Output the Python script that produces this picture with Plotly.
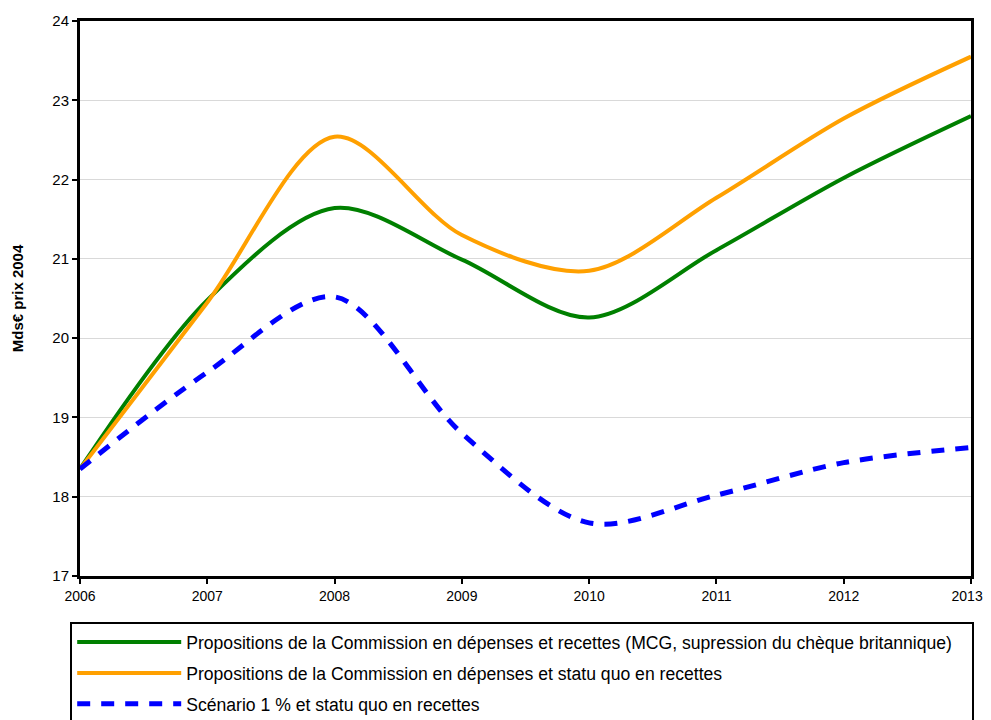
import plotly.graph_objects as go

years = [2006, 2007, 2008, 2009, 2010, 2011, 2012, 2013]
year_labels = ["2006", "2007", "2008", "2009", "2010", "2011", "2012", "2013\u00a0\u00a0"]
commission_full = [18.35, 20.48, 21.64, 20.99, 20.26, 21.11, 22.02, 22.80]
commission_statu_quo = [18.35, 20.45, 22.54, 21.30, 20.85, 21.77, 22.77, 23.55]
scenario_1pct = [18.35, 19.57, 20.52, 18.80, 17.67, 18.02, 18.43, 18.62]

names = [
    "Propositions de la Commission en dépenses et recettes (MCG, supression du chèque britannique)",
    "Propositions de la Commission en dépenses et statu quo en recettes",
    "Scénario 1 % et statu quo en recettes",
]

fig = go.Figure()
fig.add_trace(go.Scatter(x=years, y=commission_full, name=names[0] + "\u00a0\u00a0\u00a0", mode="lines",
                         line=dict(color="#008000", width=4, shape="spline", smoothing=0.9),
                         legendgroup="a"))
fig.add_trace(go.Scatter(x=years, y=commission_statu_quo, name=names[1], mode="lines",
                         line=dict(color="#FFA000", width=4, shape="spline", smoothing=0.9),
                         legendgroup="b"))
fig.add_trace(go.Scatter(x=years, y=scenario_1pct, name=names[2], mode="lines",
                         line=dict(color="#0000FF", width=5, shape="spline", smoothing=0.9,
                                   dash="13px,11px"),
                         legendgroup="c"))

# page body adds an 8px offset, margins are set against that
fig.update_layout(
    width=983, height=720,
    margin=dict(l=72, r=20, t=13, b=152, autoexpand=False),
    plot_bgcolor="white", paper_bgcolor="white",
    font=dict(family="Liberation Sans, Arial, sans-serif", color="black", size=13),
    showlegend=True,
    legend=dict(
        x=-0.011, y=-0.083, xanchor="left", yanchor="top",
        bordercolor="black", borderwidth=2,
        font=dict(size=17.6), itemwidth=104,
        tracegroupgap=5, traceorder="grouped",
    ),
)
fig.update_xaxes(
    range=[2006, 2013], tickvals=years, ticktext=year_labels, showgrid=False, automargin=False,
    showline=True, linecolor="black", linewidth=3, mirror=True,
    ticks="outside", ticklen=5, tickwidth=2, tickcolor="black",
    tickfont=dict(size=14),
)
fig.update_yaxes(
    range=[17, 24], dtick=1, showgrid=True, gridcolor="#d9d9d9", gridwidth=1,
    showline=True, linecolor="black", linewidth=3, mirror=True, automargin=False,
    ticks="outside", ticklen=5, tickwidth=2, tickcolor="black",
    tickfont=dict(size=15), zeroline=False,
    title=dict(text="<b>Mds€ prix 2004</b>", font=dict(size=15), standoff=26),
)

fig.write_html("out.html")
